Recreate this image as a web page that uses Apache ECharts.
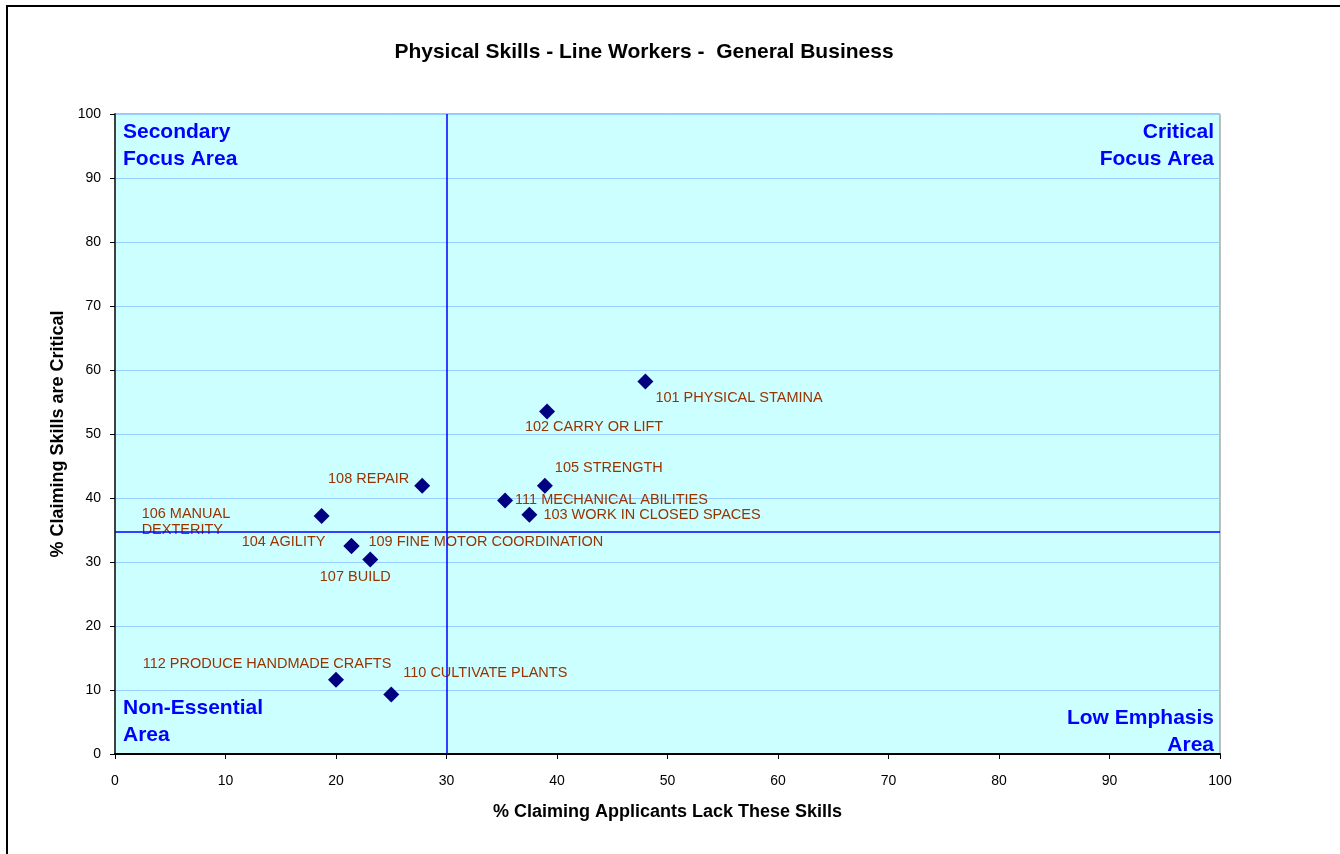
<!DOCTYPE html>
<html>
<head>
<meta charset="utf-8">
<script src="https://cdn.jsdelivr.net/npm/echarts@6/dist/echarts.min.js"></script>
<style>
html,body{margin:0;padding:0;background:#fff;}
#frame{position:absolute;left:6px;top:5px;width:1400px;height:900px;border-left:2px solid #000;border-top:2px solid #000;}
#chart{position:absolute;left:0;top:0;width:1340px;height:854px;}
</style>
</head>
<body>
<div id="frame"></div>
<div id="chart"></div>
<script>
// ---- data ----
const skillNames = [
  '101 PHYSICAL STAMINA','102 CARRY OR LIFT','105 STRENGTH','111 MECHANICAL ABILITIES',
  '103 WORK IN CLOSED SPACES','108 REPAIR','106 MANUAL\nDEXTERITY','104 AGILITY',
  '109 FINE MOTOR COORDINATION','107 BUILD','112 PRODUCE HANDMADE CRAFTS','110 CULTIVATE PLANTS'
];
const lackPct     = [48.0, 39.1, 38.9, 35.3, 37.5, 27.8, 18.7, 21.4, 21.4, 23.1, 20.0, 25.0];
const criticalPct = [58.2, 53.5, 41.9, 39.6, 37.4, 41.9, 37.2, 32.5, 32.5, 30.4, 11.6, 9.3];
const xTicks = [0,10,20,30,40,50,60,70,80,90,100];
const yTicks = [0,10,20,30,40,50,60,70,80,90,100];
const refLack = 30;
const refCritical = 34.8;
const quadrantTexts = ['Secondary\nFocus Area','Critical\nFocus Area','Non-Essential\nArea','Low Emphasis\nArea'];

// ---- label layout (styling only) ----
const labelLayout = {
  '101': {align:'left',   offset:[10,16]},
  '102': {align:'center', offset:[47,15]},
  '105': {align:'left',   offset:[10,-18]},
  '111': {align:'left',   offset:[10,-1]},
  '103': {align:'left',   offset:[14,0]},
  '108': {align:'right',  offset:[-13,-7]},
  '106': {align:'left',   offset:[-180,6]},
  '104': {align:'right',  offset:[-26,-4]},
  '109': {align:'left',   offset:[17,-4]},
  '107': {align:'center', offset:[-15,18]},
  '112': {align:'center', offset:[-69,-16]},
  '110': {align:'left',   offset:[12,-21]}
};

const FONT = 'Liberation Sans, Arial, sans-serif';
const SYM = 16;
const points = skillNames.map((n,i)=>{
  const L = labelLayout[n.slice(0,3)];
  return {
    value:[lackPct[i], criticalPct[i]],
    name:n,
    label:{show:true, position:[SYM/2+L.offset[0], SYM/2+L.offset[1]], align:L.align, verticalAlign:'middle'}
  };
});

const W = 1340;
const chart = echarts.init(document.getElementById('chart'), null, {renderer:'canvas'});
const gridL = 115, gridR = 120, gridT = 114, gridB = 100;
const qFont = 'bold 21px ' + FONT;
chart.setOption({
  backgroundColor:'transparent',
  animation:false,
  title:{
    text:'Physical Skills - Line Workers -  General Business',
    left:639, top:37, textAlign:'center',
    textStyle:{fontFamily:FONT, fontSize:21, fontWeight:'bold', color:'#000'}
  },
  grid:{left:gridL, right:gridR, top:gridT, bottom:gridB, show:true, backgroundColor:'#ccffff', borderColor:'#808080', borderWidth:1},
  xAxis:{
    type:'value', min:xTicks[0], max:xTicks[xTicks.length-1], interval:10,
    name:'% Claiming Applicants Lack These Skills', nameLocation:'middle', nameGap:49,
    nameTextStyle:{fontFamily:FONT, fontSize:18, fontWeight:'bold', color:'#000'},
    axisLine:{show:true, onZero:false, lineStyle:{color:'#000', width:2}},
    axisTick:{show:true, inside:false, length:5, lineStyle:{color:'#000'}},
    axisLabel:{fontFamily:FONT, fontSize:14, color:'#000', margin:20},
    splitLine:{show:false}
  },
  yAxis:{
    type:'value', min:yTicks[0], max:yTicks[yTicks.length-1], interval:10,
    name:'% Claiming Skills are Critical', nameLocation:'middle', nameGap:48, nameRotate:90,
    nameTextStyle:{fontFamily:FONT, fontSize:18, fontWeight:'bold', color:'#000'},
    axisLine:{show:true, onZero:false, lineStyle:{color:'#404040', width:2}},
    axisTick:{show:true, inside:false, length:5, lineStyle:{color:'#000'}},
    axisLabel:{fontFamily:FONT, fontSize:14, color:'#000', margin:14},
    splitLine:{show:true, lineStyle:{color:'#99ccff', width:1}}
  },
  series:[{
    type:'scatter',
    symbol:'diamond',
    symbolSize:SYM,
    itemStyle:{color:'#000080', opacity:1},
    label:{fontFamily:FONT, fontSize:14.5, color:'#993300', lineHeight:16,
      formatter:p=>p.name},
    labelLayout:{hideOverlap:false},
    data:points,
    markLine:{
      silent:true, symbol:'none', label:{show:false},
      lineStyle:{color:'#0000ff', width:1.5, type:'solid'},
      data:[{xAxis:refLack},{yAxis:refCritical}]
    },
    z:3
  }],
  graphic:[
    {type:'text', x:gridL+8, y:gridT+5, style:{text:quadrantTexts[0], font:qFont, fill:'#0000ff', lineHeight:27, align:'left', verticalAlign:'top'}},
    {type:'text', x:W-gridR-6, y:gridT+5, style:{text:quadrantTexts[1], font:qFont, fill:'#0000ff', lineHeight:27, align:'right', verticalAlign:'top'}},
    {type:'text', x:gridL+8, y:695, style:{text:quadrantTexts[2], font:qFont, fill:'#0000ff', lineHeight:27, align:'left', verticalAlign:'top'}},
    {type:'text', x:W-gridR-6, y:705, style:{text:quadrantTexts[3], font:qFont, fill:'#0000ff', lineHeight:27, align:'right', verticalAlign:'top'}}
  ]
});
</script>
</body>
</html>
